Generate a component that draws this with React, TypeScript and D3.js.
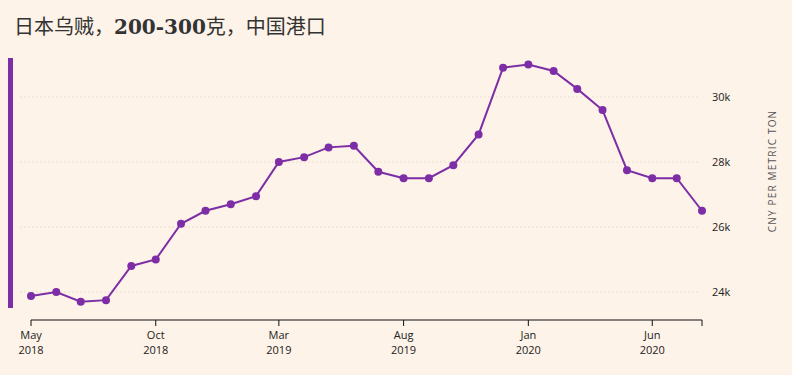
import * as d3 from "d3"
import React from "react"

const months = [
  "2018-05", "2018-06", "2018-07", "2018-08", "2018-09", "2018-10", "2018-11",
  "2018-12", "2019-01", "2019-02", "2019-03", "2019-04", "2019-05", "2019-06",
  "2019-07", "2019-08", "2019-09", "2019-10", "2019-11", "2019-12", "2020-01",
  "2020-02", "2020-03", "2020-04", "2020-05", "2020-06", "2020-07", "2020-08",
]
const prices = [
  23.88, 24.0, 23.7, 23.75, 24.8, 25.0, 26.1, 26.5, 26.7, 26.95, 28.0, 28.15,
  28.45, 28.5, 27.7, 27.5, 27.5, 27.9, 28.85, 30.9, 31.0, 30.8, 30.25, 29.6,
  27.75, 27.5, 27.5, 26.5,
]
const yTicks = [24, 26, 28, 30]
const xTickMonths = ["2018-05", "2018-10", "2019-03", "2019-08", "2020-01", "2020-06"]
const xTickLabels = [
  ["May", "2018"], ["Oct", "2018"], ["Mar", "2019"],
  ["Aug", "2019"], ["Jan", "2020"], ["Jun", "2020"],
]
// title pieces: CJK text and the digit run (set in a serif)
const titleParts = ["日本乌贼，", "200-300", "克，中国港口"]
const unitLabel = "CNY PER METRIC TON"

const W = 792, H = 375
const purple = "#7d2ea6"
const parse = d3.timeParse("%Y-%m")

export default function App() {
  const dates = months.map((m) => parse(m) as Date)
  const x = d3
    .scaleTime()
    .domain([dates[0], dates[dates.length - 1]])
    .range([31, 702])
  const y = d3.scaleLinear().domain([24, 30]).range([292, 97])

  const line = d3
    .line<number>()
    .x((_, i) => x(dates[i]))
    .y((d) => y(d))

  const sans = "'Open Sans', 'Noto Sans', sans-serif"
  const cjk = "'Noto Sans CJK SC', sans-serif"

  return (
    <svg
      width={W}
      height={H}
      style={{ position: "absolute", left: 0, top: 0, background: "#fdf3e8" }}
    >
      <rect width={W} height={H} fill="#fdf3e8" />
      <text x={14} y={34} fontSize={20} fill="#333">
        <tspan fontFamily={cjk}>{titleParts[0]}</tspan>
        <tspan fontFamily="'DejaVu Serif', serif" fontWeight="bold">
          {titleParts[1]}
        </tspan>
        <tspan fontFamily={cjk}>{titleParts[2]}</tspan>
      </text>
      <rect x={8} y={58} width={5} height={250} fill={purple} />
      {yTicks.map((t) => (
        <g key={t}>
          <line
            x1={20}
            x2={700}
            y1={y(t)}
            y2={y(t)}
            stroke="#e9dfd3"
            strokeDasharray="2,2"
          />
          <text
            x={712}
            y={y(t) + 4}
            fontSize={11}
            fill="#222"
            fontFamily={sans}
          >
            {t}k
          </text>
        </g>
      ))}
      <text
        transform={`translate(776,171) rotate(-90)`}
        textAnchor="middle"
        fontSize={10}
        letterSpacing={1.2}
        fill="#555"
        fontFamily={sans}
      >
        {unitLabel}
      </text>
      <line x1={31} x2={702} y1={320} y2={320} stroke="#111" strokeWidth={1.2} />
      <line x1={702} x2={702} y1={320} y2={326} stroke="#111" />
      {xTickMonths.map((m, i) => {
        const px = x(parse(m) as Date)
        return (
          <g key={m}>
            <line x1={px} x2={px} y1={320} y2={326} stroke="#111" />
            <text
              x={px}
              y={339}
              textAnchor="middle"
              fontSize={11}
              fill="#222"
              fontFamily={sans}
            >
              {xTickLabels[i][0]}
            </text>
            <text
              x={px}
              y={354}
              textAnchor="middle"
              fontSize={11}
              fill="#222"
              fontFamily={sans}
            >
              {xTickLabels[i][1]}
            </text>
          </g>
        )
      })}
      <path d={line(prices) ?? ""} fill="none" stroke={purple} strokeWidth={2} />
      {prices.map((p, i) => (
        <circle key={i} cx={x(dates[i])} cy={y(p)} r={4} fill={purple} />
      ))}
    </svg>
  )
}
